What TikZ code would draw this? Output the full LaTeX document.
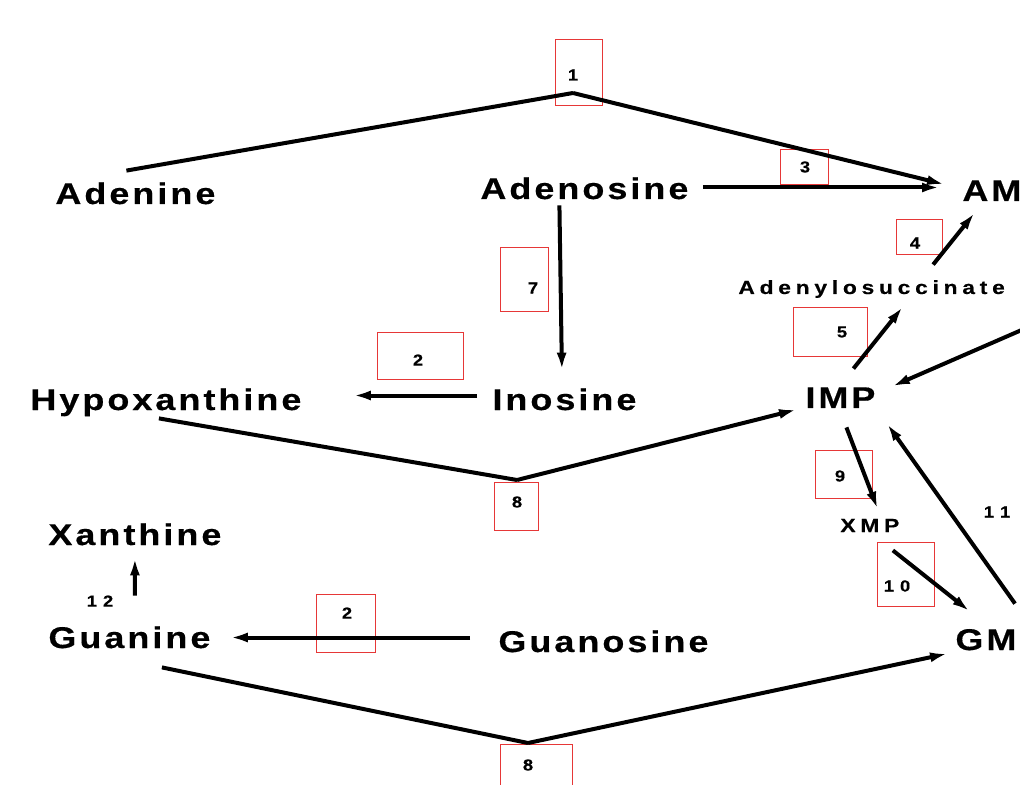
\documentclass[tikz,border=0pt]{standalone}
\usepackage{fontspec}
\setmainfont{Liberation Sans}
\newfontfamily\labfont[LetterSpace=10,FakeStretch=1.2,FakeBold=0.4]{Liberation Sans}
\newfontfamily\slabfont[LetterSpace=25,FakeStretch=1.2,FakeBold=0.4]{Liberation Sans}
\newfontfamily\numfont[FakeStretch=1.15,FakeBold=0.3]{Liberation Sans}
\usetikzlibrary{arrows.meta}
\definecolor{boxred}{RGB}{230,55,55}

\begin{document}
\begin{tikzpicture}[x=0.5pt,y=-0.5pt,
	mtb/.style={font=\labfont\bfseries\fontsize{15pt}{15pt}\selectfont,inner sep=2pt,
		text height=10.5pt,text depth=3pt,anchor=base west},
	smtb/.style={font=\slabfont\bfseries\fontsize{9.5pt}{9.5pt}\selectfont,inner sep=2pt,
		text height=7pt,text depth=2pt,anchor=base west},
	num/.style={font=\numfont\bfseries\fontsize{8pt}{8pt}\selectfont,inner sep=0pt},
	rbox/.style={draw=boxred,line width=0.5pt},
	rxn/.style={line width=2pt,-{Latex[length=9pt,width=5pt]}},
	lnk/.style={line width=2pt}]
	\useasboundingbox (0,0) rectangle (1020,785);
	\clip (0,0) rectangle (1020,785);
	\node[mtb] (adenine) at (51,204) {Adenine};
	\node[mtb] (adenosine) at (476,199) {Adenosine};
	\node[mtb] (amp) at (958,201) {AMP};
	\node[smtb] (adsucc) at (734,294) {Adenylosuccinate};
	\node[mtb] (imp) at (801,408) {IMP};
	\node[mtb] (hypox) at (26,410) {Hypoxanthine};
	\node[mtb] (inosine) at (488,410) {Inosine};
	\node[smtb] (xmp) at (836,532) {XMP};
	\node[mtb] (xanthine) at (44,545) {Xanthine};
	\node[mtb] (guanine) at (44,648) {Guanine};
	\node[mtb] (guanosine) at (494,652) {Guanosine};
	\node[mtb] (gmp) at (951,650) {GMP};
	\coordinate (peakA) at (573,93);
	\coordinate (peakH) at (517,480);
	\coordinate (peakG) at (528,743);
	\coordinate (offR) at (1040,322);
	\draw[rbox] (555,40) rectangle (602,106);
	\draw[rbox] (780,150) rectangle (828,185);
	\draw[rbox] (896,220) rectangle (942,255);
	\draw[rbox] (500,248) rectangle (548,312);
	\draw[rbox] (793,308) rectangle (867,357);
	\draw[rbox] (377,333) rectangle (463,379);
	\draw[rbox] (494,482) rectangle (538,530);
	\draw[rbox] (815,450) rectangle (872,498);
	\draw[rbox] (877,542) rectangle (934,606);
	\draw[rbox] (316,594) rectangle (375,652);
	\draw[rbox] (500,744) rectangle (572,795);
	\node[num] (n1) at (573,75) {1};
	\node[num] (n3) at (805,167) {3};
	\node[num] (n4) at (915,243) {4};
	\node[num] (n7) at (533,288) {7};
	\node[num] (n5) at (842,332) {5};
	\node[num] (n2a) at (418,360) {2};
	\node[num] (n8a) at (517,502) {8};
	\node[num] (n9) at (840,476) {9};
	\node[num] (n11) at (997,512) {1\hspace{3pt}1};
	\node[num] (n10) at (897,586) {1\hspace{3pt}0};
	\node[num] (n12) at (100,601) {1\hspace{3pt}2};
	\node[num] (n2b) at (347,613) {2};
	\node[num] (n8b) at (528,765) {8};
	\draw[lnk] ([xshift=-4.5pt,yshift=4pt]adenine.north) -- (peakA);
	\draw[rxn] (peakA) -- ([xshift=-6.5pt,yshift=4.5pt]amp.west);
	\draw[rxn] ([xshift=5pt,yshift=2pt]adenosine.east) -- ([xshift=-9pt,yshift=3pt]amp.west);
	\draw[rxn] ([xshift=-12.5pt,yshift=2pt]adenosine.south) -- ([xshift=-1.25pt,yshift=7pt]inosine.north);
	\draw[rxn] ([xshift=-5.5pt,yshift=3.5pt]inosine.west) -- ([xshift=23.5pt,yshift=3.5pt]hypox.east);
	\draw[lnk] ([xshift=-3.5pt,yshift=1pt]hypox.south) -- (peakH);
	\draw[rxn] (peakH) -- ([xshift=-2pt,yshift=-4.5pt]imp.west);
	\draw[rxn] ([xshift=6.5pt,yshift=7pt]imp.north) -- ([xshift=15.75pt,yshift=-2pt]adsucc.south);
	\draw[rxn] ([xshift=30.75pt,yshift=5.5pt]adsucc.north) -- ([xshift=8.5pt,yshift=-0.5pt]amp.south west);
	\draw[rxn] (offR) -- ([xshift=6pt,yshift=7pt]imp.east);
	\draw[rxn] ([xshift=3pt,yshift=-4.5pt]imp.south) -- ([xshift=4pt,yshift=2pt]xmp.north);
	\draw[rxn] ([xshift=11.5pt,yshift=-5pt]xmp.south) -- ([xshift=9.5pt,yshift=6.5pt]gmp.north west);
	\draw[rxn] ([xshift=32pt,yshift=10.5pt]gmp.north west) -- ([xshift=3.5pt,yshift=-2.5pt]imp.south east);
	\draw[rxn] ([xshift=2.75pt,yshift=13.5pt]guanine.north) -- ([yshift=-1pt]xanthine.south);
	\draw[rxn] ([xshift=-12pt,yshift=3.5pt]guanosine.west) -- ([xshift=7.5pt,yshift=1.5pt]guanine.east);
	\draw[lnk] ([xshift=16.25pt,yshift=-4.5pt]guanine.south) -- (peakG);
	\draw[rxn] (peakG) -- ([xshift=-1.5pt,yshift=-5.5pt]gmp.west);
\end{tikzpicture}
\end{document}
